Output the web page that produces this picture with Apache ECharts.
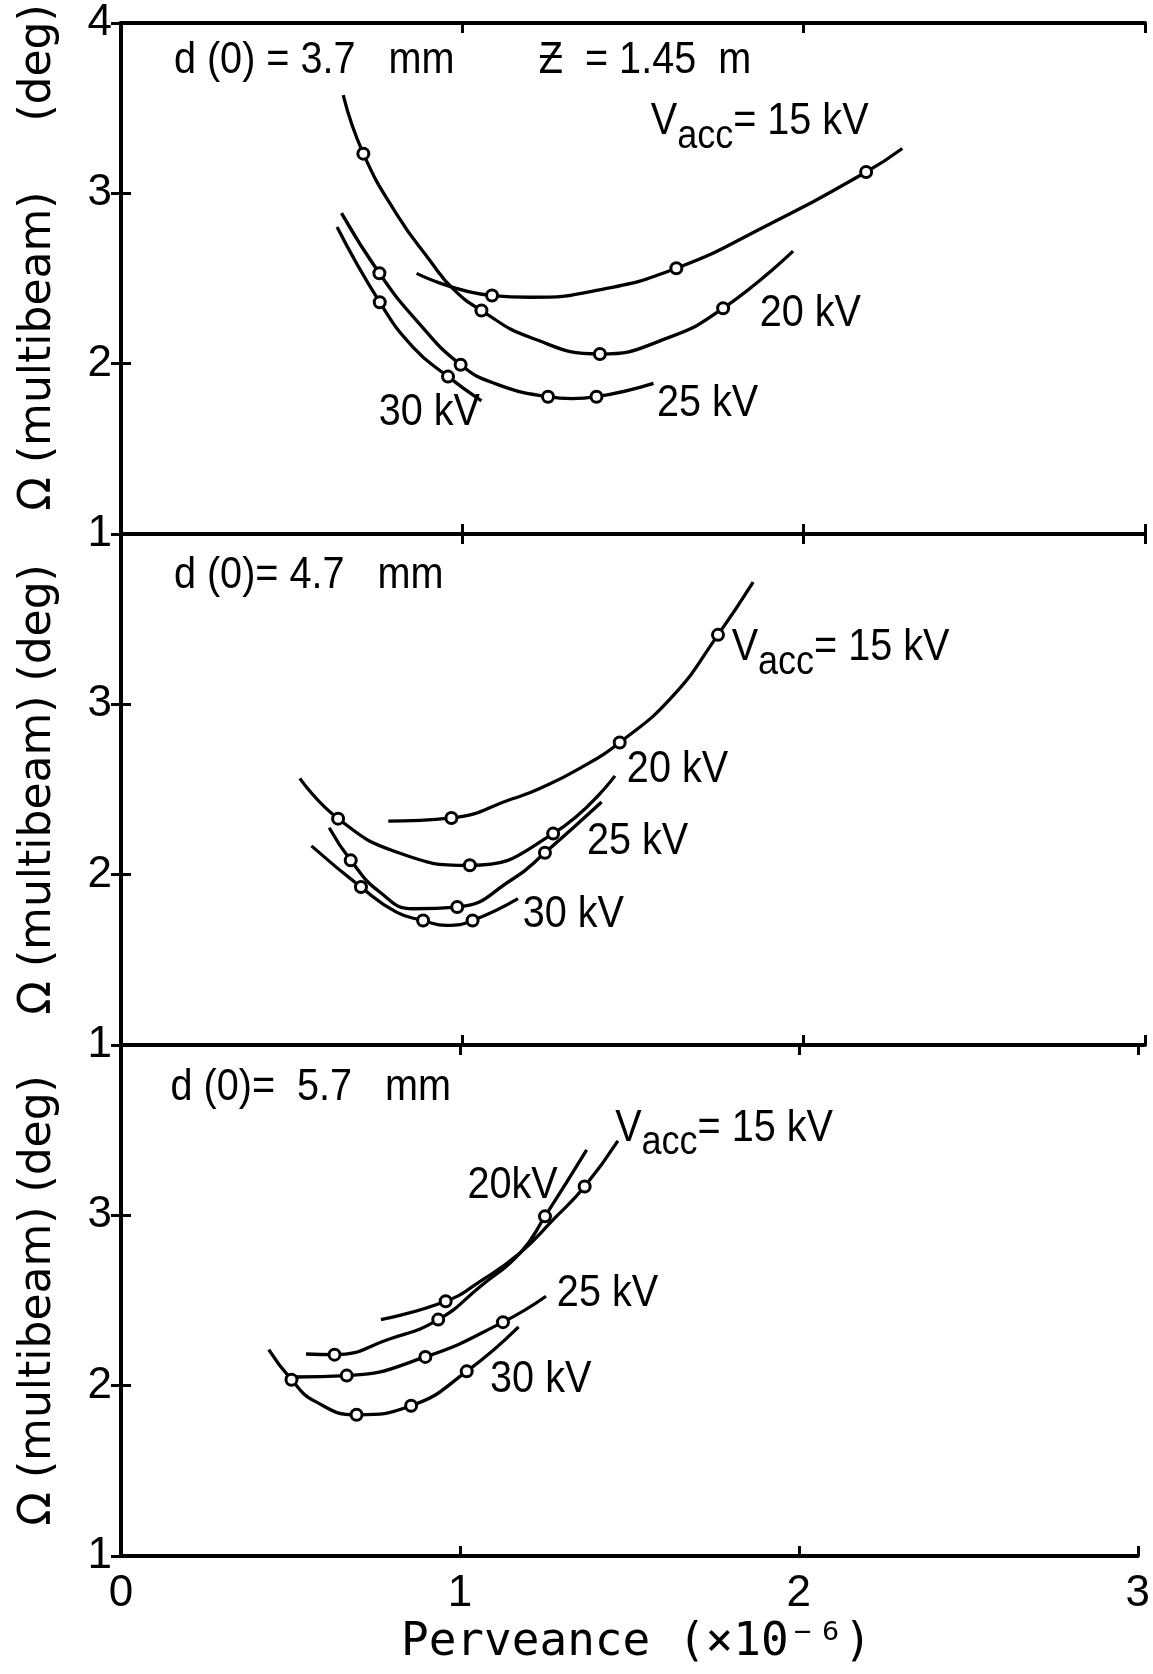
<!DOCTYPE html>
<html>
<head>
<meta charset="utf-8">
<script src="https://cdn.jsdelivr.net/npm/echarts@6/dist/echarts.min.js"></script>
<style>
  html, body { margin: 0; padding: 0; background: #fff; }
  #chart { width: 1153px; height: 1674px; }
</style>
</head>
<body>
<div id="chart"></div>
<script>
// perveance (x1e-6) vs Omega (deg); curves = fitted lines, marks = measured points
// d(0) = 3.7 mm
const top15Curve = [[0.866, 2.53], [1.087, 2.40], [1.198, 2.39], [1.393, 2.43], [1.627, 2.56], [1.891, 2.81], [2.183, 3.125], [2.289, 3.263]]
const top15Marks = [[1.087, 2.40], [1.627, 2.56], [2.183, 3.125]]
const top20Curve = [[0.651, 3.576], [0.71, 3.233], [0.807, 2.88], [0.905, 2.606], [0.973, 2.439], [1.056, 2.312], [1.198, 2.155], [1.403, 2.057], [1.6, 2.15], [1.764, 2.325], [1.969, 2.661]]
const top20Marks = [[0.71, 3.233], [1.056, 2.312], [1.403, 2.057], [1.764, 2.325]]
const top25Curve = [[0.646, 2.884], [0.757, 2.531], [0.866, 2.253], [0.995, 1.994], [1.10, 1.88], [1.251, 1.806], [1.32, 1.795], [1.393, 1.806], [1.56, 1.884]]
const top25Marks = [[0.757, 2.531], [0.995, 1.994], [1.251, 1.806], [1.393, 1.806]]
const top30Curve = [[0.633, 2.802], [0.758, 2.361], [0.856, 2.096], [0.958, 1.924], [1.056, 1.782]]
const top30Marks = [[0.758, 2.361], [0.958, 1.924]]

// d(0) = 4.7 mm
const mid15Curve = [[0.783, 2.314], [0.968, 2.333], [1.149, 2.447], [1.227, 2.506], [1.344, 2.624], [1.461, 2.776], [1.617, 3.05], [1.749, 3.408], [1.852, 3.718]]
const mid15Marks = [[0.968, 2.333], [1.461, 2.776], [1.749, 3.408]]
const mid20Curve = [[0.524, 2.565], [0.636, 2.329], [0.807, 2.133], [1.022, 2.055], [1.266, 2.241], [1.447, 2.58]]
const mid20Marks = [[0.636, 2.329], [1.022, 2.055], [1.266, 2.241]]
const mid25Curve = [[0.61, 2.275], [0.673, 2.084], [0.758, 1.898], [0.856, 1.80], [0.985, 1.81], [1.149, 1.976], [1.242, 2.129], [1.408, 2.427]]
const mid25Marks = [[0.673, 2.084], [0.985, 1.81], [1.242, 2.129]]
const mid30Curve = [[0.558, 2.169], [0.703, 1.927], [0.807, 1.78], [0.885, 1.731], [0.954, 1.702], [1.03, 1.731], [1.163, 1.859]]
const mid30Marks = [[0.703, 1.927], [0.885, 1.731], [1.03, 1.731]]

// d(0) = 5.7 mm
const bot15Curve = [[0.767, 2.388], [0.958, 2.496], [1.061, 2.614], [1.178, 2.78], [1.276, 2.976], [1.368, 3.169], [1.466, 3.437]]
const bot15Marks = [[0.958, 2.496], [1.368, 3.169]]
const bot20Curve = [[0.546, 2.186], [0.63, 2.182], [0.788, 2.271], [0.936, 2.388], [1.061, 2.584], [1.178, 2.78], [1.251, 2.994], [1.374, 3.384]]
const bot20Marks = [[0.63, 2.182], [0.936, 2.388], [1.251, 2.994]]
const bot25Curve = [[0.514, 2.051], [0.666, 2.059], [0.898, 2.169], [1.127, 2.373], [1.254, 2.525]]
const bot25Marks = [[0.666, 2.059], [0.898, 2.169], [1.127, 2.373]]
const bot30Curve = [[0.436, 2.212], [0.503, 2.035], [0.573, 1.908], [0.695, 1.829], [0.856, 1.882], [1.02, 2.084], [1.173, 2.345]]
const bot30Marks = [[0.503, 2.035], [0.695, 1.829], [0.856, 1.882], [1.02, 2.084]]

const xTicks = ['0', '1', '2', '3']
const yTicks = ['1', '2', '3', '4']

// panel notes, anchored (left edge, middle) at data coords
const topNotes = [
  { text: 'd (0) = 3.7   mm', at: [0.155, 3.78] },
  { text: 'Ƶ  = 1.45  m', at: [1.224, 3.78] },
  { text: 'vacc', at: [1.552, 3.42] },
  { text: '20 kV', at: [1.871, 2.294] },
  { text: '25 kV', at: [1.57, 1.762] },
  { text: '30 kV', at: [0.755, 1.712] }
]
const midNotes = [
  { text: 'd (0)= 4.7   mm', at: [0.155, 3.755] },
  { text: 'vacc', at: [1.789, 3.33] },
  { text: '20 kV', at: [1.482, 2.618] },
  { text: '25 kV', at: [1.365, 2.194] },
  { text: '30 kV', at: [1.177, 1.765] }
]
const botNotes = [
  { text: 'd (0)=  5.7   mm', at: [0.146, 3.747] },
  { text: 'vacc', at: [1.458, 3.51] },
  { text: '20kV', at: [1.022, 3.171] },
  { text: '25 kV', at: [1.286, 2.541] },
  { text: '30 kV', at: [1.089, 2.035] }
]

const panels = [
  { curves: [top15Curve, top20Curve, top25Curve, top30Curve], marks: [top15Marks, top20Marks, top25Marks, top30Marks], notes: topNotes, yName: '   Ω (multibeam)     (deg)' },
  { curves: [mid15Curve, mid20Curve, mid25Curve, mid30Curve], marks: [mid15Marks, mid20Marks, mid25Marks, mid30Marks], notes: midNotes, yName: 'Ω (multibeam) (deg)' },
  { curves: [bot15Curve, bot20Curve, bot25Curve, bot30Curve], marks: [bot15Marks, bot20Marks, bot25Marks, bot30Marks], notes: botNotes, yName: 'Ω (multibeam) (deg)' }
]

const sans = "'Liberation Sans', Arial, sans-serif"
const panelTop = [23, 534, 1045]
const panelH = 511

let myCharts = echarts.init(document.getElementById('chart'))

let grid = []
let xAxis = []
let yAxis = []
let series = []

const lineAxis = { lineStyle: { color: '#000', width: 4 } }
const tick = { inside: true, length: 10, lineStyle: { color: '#000', width: 3 } }

panels.forEach((p, i) => {
  grid.push({ left: 121, right: 8, top: panelTop[i], height: panelH })
  // bottom x axis
  xAxis.push({
    gridIndex: i, type: 'value', min: 0, max: 3, interval: 1, position: 'bottom',
    axisLine: lineAxis, axisTick: tick, splitLine: { show: false },
    axisLabel: {
      show: i === 2, margin: 16, color: '#000', fontSize: 44, fontFamily: sans,
      formatter: v => xTicks[Math.round(v)]
    },
    name: i === 2 ? 'Perveance (×10⁻⁶)' : '',
    nameLocation: 'middle', nameGap: 64,
    nameTextStyle: { color: '#000', fontSize: 46, fontFamily: "'DejaVu Sans Mono', monospace", padding: [0, 0, 0, 14] }
  })
  // top x axis, ticks only
  xAxis.push({
    gridIndex: i, type: 'value', min: 0, max: 3, interval: 1, position: 'top',
    axisLine: lineAxis, axisTick: tick, splitLine: { show: false }, axisLabel: { show: false }
  })
  yAxis.push({
    gridIndex: i, type: 'value', min: 1, max: 4, interval: 1, position: 'left',
    axisLine: lineAxis, axisTick: tick, splitLine: { show: false },
    axisLabel: {
      margin: 9, color: '#000', fontSize: 44, fontFamily: sans,
      formatter: v => (i > 0 && v === 4) ? '' : yTicks[Math.round(v) - 1]
    },
    name: p.yName, nameLocation: 'middle', nameRotate: 90, nameGap: 60,
    nameTextStyle: { color: '#000', fontSize: 44, fontFamily: "'DejaVu Sans', sans-serif" }
  })
  yAxis.push({
    gridIndex: i, type: 'value', min: 1, max: 4, interval: 1, position: 'right',
    axisLine: lineAxis, axisTick: tick, splitLine: { show: false }, axisLabel: { show: false }
  })

  p.curves.forEach(c => {
    series.push({
      type: 'line', xAxisIndex: 2 * i, yAxisIndex: 2 * i, data: c,
      smooth: 0.5, symbol: 'none', silent: true,
      lineStyle: { color: '#000', width: 3.3 }
    })
  })
  p.marks.forEach(m => {
    series.push({
      type: 'scatter', xAxisIndex: 2 * i, yAxisIndex: 2 * i, data: m, z: 5,
      symbol: 'circle', symbolSize: 11, silent: true,
      itemStyle: { color: '#fff', borderColor: '#000', borderWidth: 3, opacity: 1 }
    })
  })
})

myCharts.setOption({
  animation: false,
  backgroundColor: '#fff',
  grid: grid,
  xAxis: xAxis,
  yAxis: yAxis,
  series: series
})

// notes: placed through the axes' own conversion
let graphic = []
panels.forEach((p, i) => {
  p.notes.forEach(n => {
    const pt = myCharts.convertToPixel({ xAxisIndex: 2 * i, yAxisIndex: 2 * i }, n.at)
    const isV = n.text === 'vacc'
    graphic.push({
      type: 'text', x: pt[0], y: isV ? pt[1] - 22 : pt[1], scaleX: 0.9, silent: true, z: 10,
      style: {
        text: isV ? '{v|V}{s|acc}{v|= 15 kV}' : n.text,
        x: 0, y: 0, align: 'left', verticalAlign: isV ? 'top' : 'middle',
        fill: '#000', font: '44px ' + sans,
        rich: isV ? {
          v: { fill: '#000', font: '44px ' + sans, lineHeight: 44, verticalAlign: 'top' },
          s: { fill: '#000', font: '40px ' + sans, lineHeight: 40, verticalAlign: 'top', padding: [17, 0, 0, 0] }
        } : undefined
      }
    })
  })
})
myCharts.setOption({ graphic: graphic })
</script>
</body>
</html>
